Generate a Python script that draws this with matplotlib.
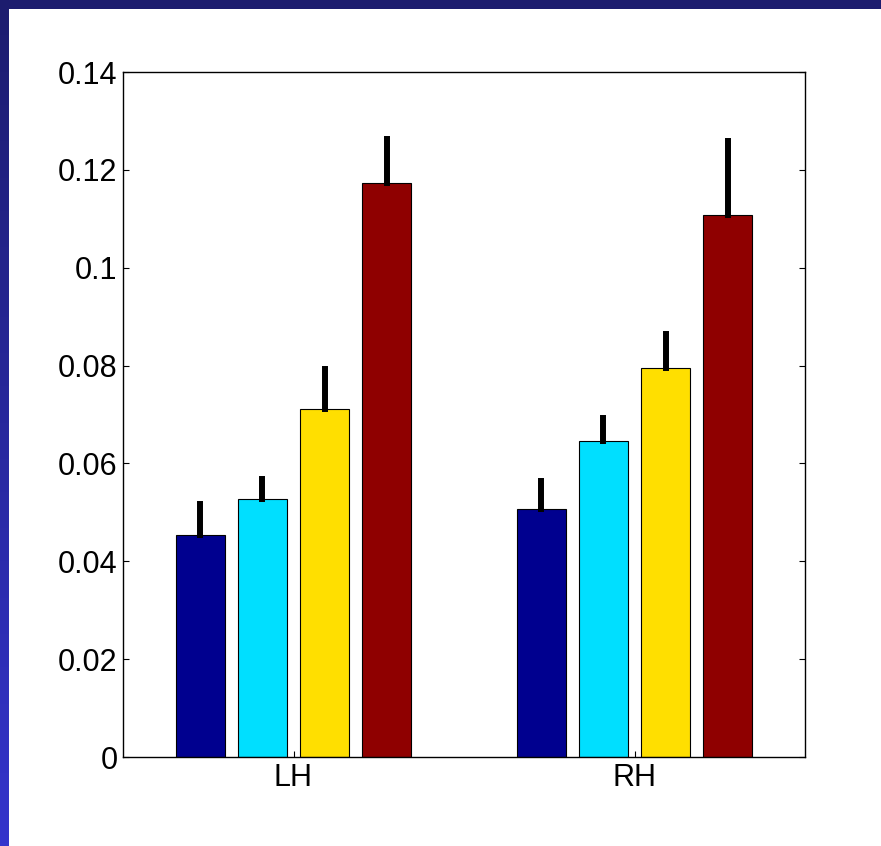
import matplotlib.pyplot as plt
import numpy as np
from matplotlib.patches import Rectangle

# mean values per hemisphere and condition, with upper error
groups = ['LH', 'RH']
means_c1 = [0.0454, 0.0507]
means_c2 = [0.0527, 0.0645]
means_c3 = [0.0711, 0.0795]
means_c4 = [0.1174, 0.1107]
err_c1 = [0.0063, 0.0057]
err_c2 = [0.0041, 0.0048]
err_c3 = [0.0082, 0.0069]
err_c4 = [0.0089, 0.0152]
yticks = [0, 0.02, 0.04, 0.06, 0.08, 0.1, 0.12, 0.14]
yticklabels = ['0', '0.02', '0.04', '0.06', '0.08', '0.1', '0.12', '0.14']

colors = ['#00008f', '#00dfff', '#ffdf00', '#8f0000']

plt.rcParams['font.family'] = ['Liberation Sans', 'DejaVu Sans']

fig = plt.figure(figsize=(8.81, 8.46), dpi=100)
fig.patch.set_facecolor('white')

# slide-style frame: navy top band and gradient strip on the left
band = fig.add_axes([0, 0, 9 / 881, 1])
grad = np.linspace(0, 1, 256).reshape(-1, 1)
band.imshow(grad, aspect='auto', cmap=plt.matplotlib.colors.LinearSegmentedColormap.from_list(
    'frame', ['#3434cc', '#1c1c6e']), origin='lower', extent=[0, 1, 0, 1])
band.axis('off')
fig.patches.append(Rectangle((0, 1 - 9 / 846), 1, 9 / 846, transform=fig.transFigure,
                             facecolor='#1c1c6e', edgecolor='none', zorder=5))

ax = fig.add_axes([123 / 881, 1 - 757 / 846, (805 - 123) / 881, (757 - 72) / 846])

x = np.arange(1, len(groups) + 1)
pitch = 0.182
width = 0.144
series = [(means_c1, err_c1), (means_c2, err_c2), (means_c3, err_c3), (means_c4, err_c4)]
for i, (m, e) in enumerate(series):
    xs = x + (i - 1.5) * pitch
    ax.bar(xs, m, width=width, color=colors[i], edgecolor='black', linewidth=0.8, zorder=2)
    for xi, mi, ei in zip(xs, m, e):
        ax.plot([xi, xi], [mi, mi + ei], color='black', linewidth=4.3,
                solid_capstyle='projecting', zorder=3)

ax.set_xlim(0.5, 2.5)
ax.set_ylim(0, 0.14)
ax.set_xticks(x)
ax.set_xticklabels(groups)
ax.set_yticks(yticks)
ax.set_yticklabels(yticklabels)
ax.tick_params(direction='in', length=4, width=0.8, labelsize=22, pad=4,
               right=True, top=False)
for s in ax.spines.values():
    s.set_linewidth(1.0)

fig.savefig('out.png', dpi=100)
